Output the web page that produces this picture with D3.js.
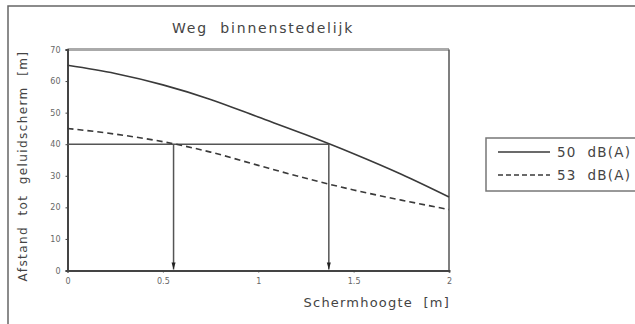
<!DOCTYPE html>
<html>
<head>
<meta charset="utf-8">
<script src="https://cdn.jsdelivr.net/npm/d3@7"></script>
<style>
  body { margin: 0; background: #fff; }
  svg { display: block; font-family: 'DejaVu Sans', sans-serif; }
  svg text { white-space: pre; }
</style>
</head>
<body>
<div id="chart"></div>
<script>
const hoogte = [0, 0.25, 0.5, 0.75, 1, 1.25, 1.5, 1.75, 2];
const afstand50 = [65, 62.4, 58.8, 54.2, 48.6, 43, 37, 30.5, 23.3];
const afstand53 = [45, 43.2, 40.8, 37.5, 33.3, 29.2, 25.5, 22.3, 19.3];
const seriesNames = ['50  dB(A)', '53  dB(A)'];
const xTicks = [0, 0.5, 1, 1.5, 2];
const xTickLabels = ['0', '0.5', '1', '1.5', '2'];
const yTicks = [0, 10, 20, 30, 40, 50, 60, 70];
const refLevel = 40;
const refHoogte = [0.556, 1.37];

const W = 635, H = 324;
const margin = { top: 49.5, right: 186, bottom: 53.5, left: 67.5 };
const width = W - margin.left - margin.right;
const height = H - margin.top - margin.bottom;
const ink = '#3a3a3a';

const svg = d3.select('#chart').append('svg')
  .attr('width', W)
  .attr('height', H);

// outer frame (clipped on right and bottom)
svg.append('path')
  .attr('d', `M8,${H} L8,6 L${W},6`)
  .attr('fill', 'none')
  .attr('stroke', '#666')
  .attr('stroke-width', 1.5);

const g = svg.append('g')
  .attr('transform', `translate(${margin.left},${margin.top})`);

const x = d3.scaleLinear().domain([0, 2]).range([0, width]);
const y = d3.scaleLinear().domain([0, 70]).range([height, 0]);

// plot frame
g.append('line').attr('x1', 0).attr('x2', width).attr('y1', 0).attr('y2', 0)
  .attr('stroke', '#aaa').attr('stroke-width', 3);
g.append('line').attr('x1', width).attr('x2', width).attr('y1', 0).attr('y2', height)
  .attr('stroke', '#555').attr('stroke-width', 1.5);

// axes
const xAxis = g.append('g')
  .attr('transform', `translate(0,${height})`)
  .call(d3.axisBottom(x).tickValues(xTicks).tickFormat((d, i) => xTickLabels[i]).tickSize(2).tickPadding(6));
const yAxis = g.append('g')
  .call(d3.axisLeft(y).tickValues(yTicks).tickSize(2).tickPadding(5));

[xAxis, yAxis].forEach((ax) => {
  ax.select('.domain').attr('stroke', '#444').attr('stroke-width', 2);
  ax.selectAll('.tick line').attr('stroke', '#444');
  ax.selectAll('.tick text')
    .attr('fill', '#666')
    .style('font-size', '8px')
    .style('font-family', 'DejaVu Sans, sans-serif');
});

// reference lines at 40 m
g.append('line')
  .attr('x1', x(0)).attr('x2', d3.max(refHoogte, (d) => x(d)))
  .attr('y1', y(refLevel)).attr('y2', y(refLevel))
  .attr('stroke', '#555').attr('stroke-width', 1.5);

refHoogte.forEach((h) => {
  g.append('line')
    .attr('x1', x(h)).attr('x2', x(h))
    .attr('y1', y(refLevel)).attr('y2', y(0) - 1)
    .attr('stroke', '#555').attr('stroke-width', 1.5);
  g.append('path')
    .attr('d', `M${x(h) - 2},${y(0) - 8} L${x(h) + 2},${y(0) - 8} L${x(h)},${y(0) - 1} Z`)
    .attr('fill', '#222');
});

// curves
const line = d3.line()
  .curve(d3.curveMonotoneX)
  .x((d, i) => x(hoogte[i]))
  .y((d) => y(d));

g.append('path')
  .datum(afstand50)
  .attr('fill', 'none')
  .attr('stroke', ink)
  .attr('stroke-width', 1.6)
  .attr('d', line);

g.append('path')
  .datum(afstand53)
  .attr('fill', 'none')
  .attr('stroke', ink)
  .attr('stroke-width', 1.6)
  .attr('stroke-dasharray', '6,4')
  .attr('d', line);

// title
svg.append('text')
  .attr('x', 263)
  .attr('y', 33)
  .attr('text-anchor', 'middle')
  .attr('fill', '#444')
  .style('font-size', '14px')
  .style('letter-spacing', '1.8px')
  .text('Weg  binnenstedelijk');

// axis titles
svg.append('text')
  .attr('x', 450)
  .attr('y', 307)
  .attr('text-anchor', 'end')
  .attr('fill', '#444')
  .style('font-size', '13px')
  .style('letter-spacing', '1.2px')
  .text('Schermhoogte  [m]');

svg.append('text')
  .attr('transform', 'translate(27,166) rotate(-90)')
  .attr('text-anchor', 'middle')
  .attr('fill', '#444')
  .style('font-size', '12px')
  .style('letter-spacing', '1.4px')
  .text('Afstand  tot  geluidscherm  [m]');

// legend
const legend = svg.append('g').attr('transform', 'translate(486,138)');
legend.append('rect')
  .attr('x', 0).attr('y', 0)
  .attr('width', 160).attr('height', 53)
  .attr('fill', '#fff')
  .attr('stroke', '#777')
  .attr('stroke-width', 1.5);

seriesNames.forEach((name, i) => {
  const row = legend.append('g').attr('transform', `translate(0,${14 + i * 23})`);
  row.append('line')
    .attr('x1', 12).attr('x2', 64)
    .attr('y1', 0).attr('y2', 0)
    .attr('stroke', ink)
    .attr('stroke-width', 1.6)
    .attr('stroke-dasharray', i === 1 ? '5,3' : null);
  row.append('text')
    .attr('x', 71)
    .attr('y', 5)
    .attr('fill', '#444')
    .style('font-size', '13.5px')
    .style('letter-spacing', '1.2px')
    .text(name);
});
</script>
</body>
</html>
